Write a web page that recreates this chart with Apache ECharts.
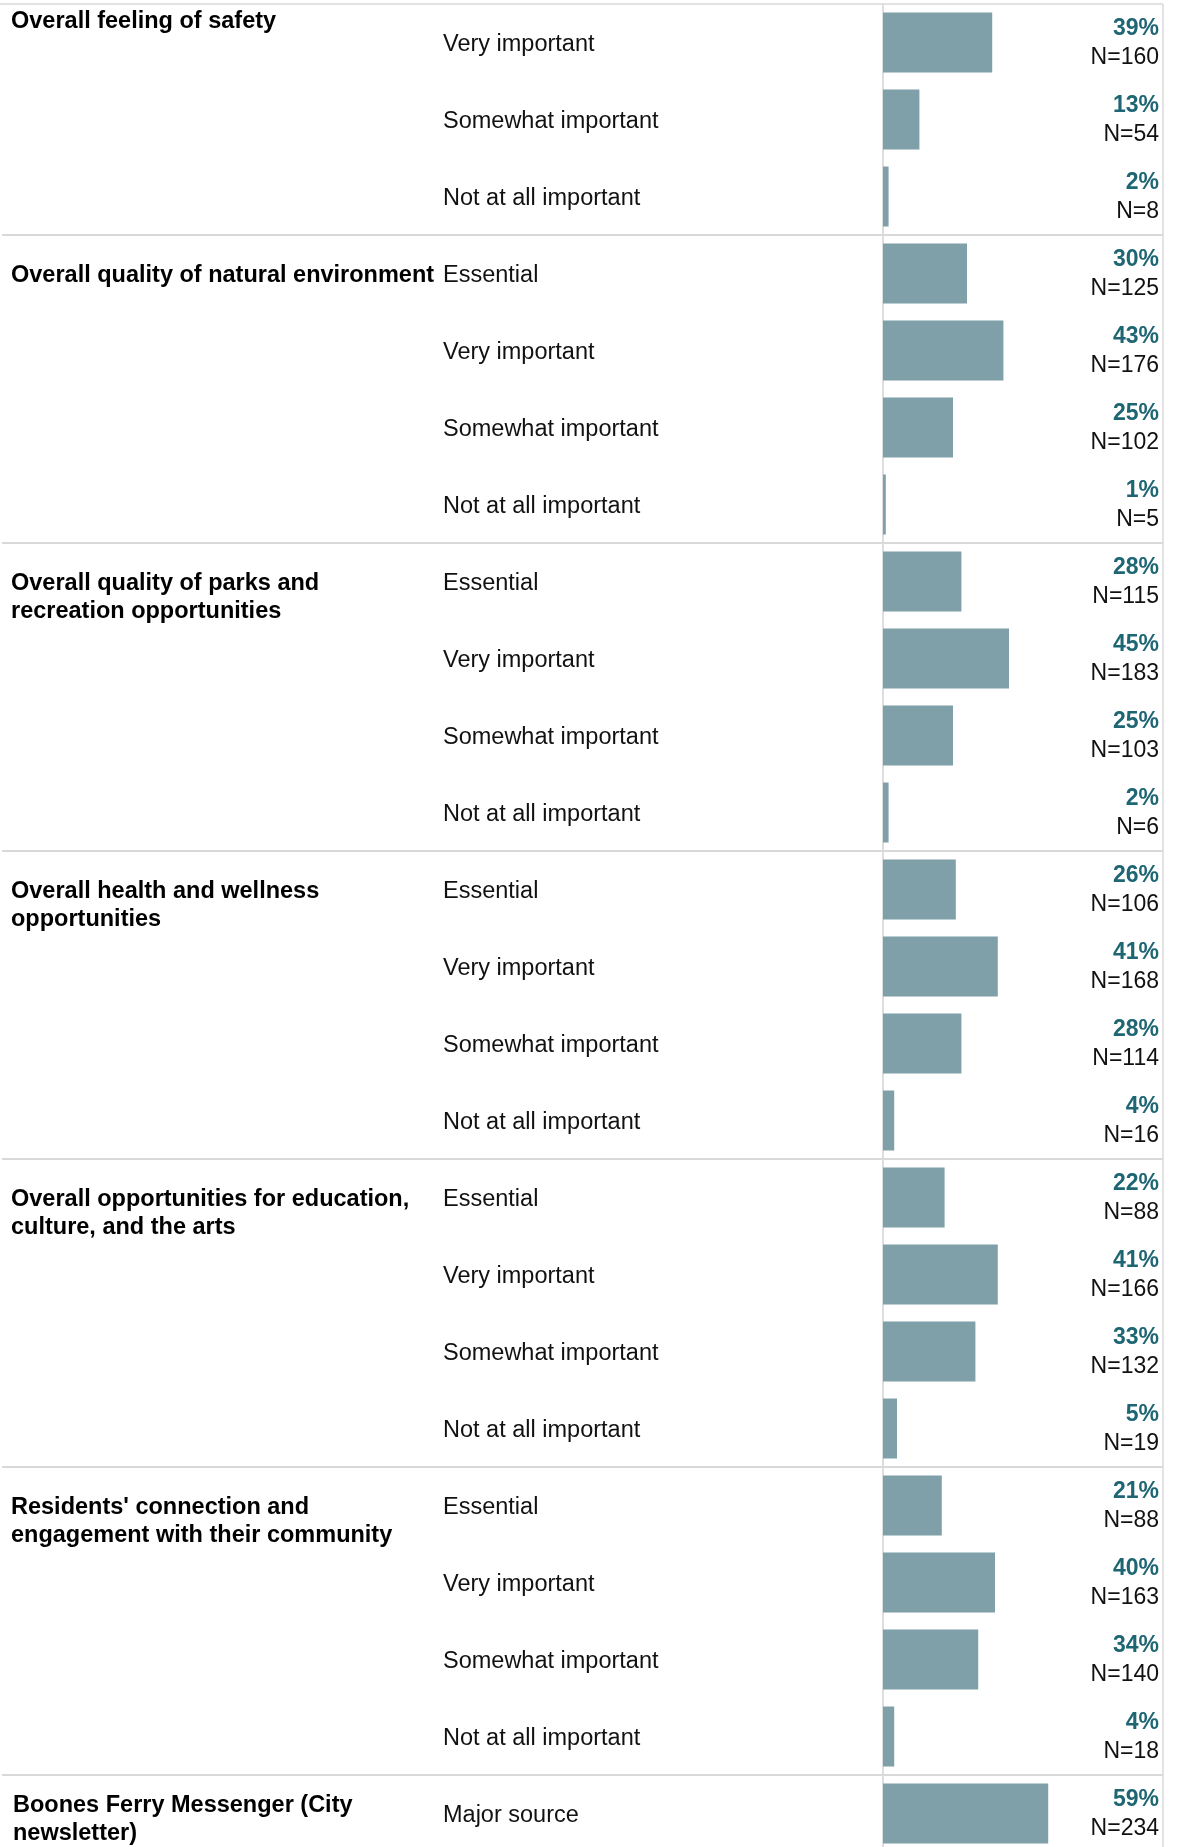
<!DOCTYPE html>
<html>
<head>
<meta charset="utf-8">
<script src="https://cdn.jsdelivr.net/npm/echarts@6/dist/echarts.min.js"></script>
<style>
html,body{margin:0;padding:0;background:#fff;overflow:hidden;}
#chart{width:1178px;height:1860px;}
</style>
</head>
<body>
<div id="chart"></div>
<script>
// ---- data ----
const groupNames = [
  "Overall feeling of safety",
  "Overall quality of natural environment",
  "Overall quality of parks and\nrecreation opportunities",
  "Overall health and wellness\nopportunities",
  "Overall opportunities for education,\nculture, and the arts",
  "Residents' connection and\nengagement with their community",
  "Boones Ferry Messenger (City\nnewsletter)"
];
const groupSizes = [3, 4, 4, 4, 4, 4, 1];
const rowLabels = [
  "Very important", "Somewhat important", "Not at all important",
  "Essential", "Very important", "Somewhat important", "Not at all important",
  "Essential", "Very important", "Somewhat important", "Not at all important",
  "Essential", "Very important", "Somewhat important", "Not at all important",
  "Essential", "Very important", "Somewhat important", "Not at all important",
  "Essential", "Very important", "Somewhat important", "Not at all important",
  "Major source"
];
const pctValues = [
  39, 13, 2,
  30, 43, 25, 1,
  28, 45, 25, 2,
  26, 41, 28, 4,
  22, 41, 33, 5,
  21, 40, 34, 4,
  59
];
const nValues = [
  160, 54, 8,
  125, 176, 102, 5,
  115, 183, 103, 6,
  106, 168, 114, 16,
  88, 166, 132, 19,
  88, 163, 140, 18,
  234
];

// ---- chart ----
const FONT = "'Liberation Sans', Arial, sans-serif";
const BAR = '#7fa0a8';
const PCT = '#1f6674';
const LINE = '#d9d9d9';
const SHIFT = 2.5;
const cats = rowLabels.map((_, i) => String(i));

const chart = echarts.init(document.getElementById('chart'), null, {renderer: 'canvas'});
chart.setOption({
  animation: false,
  backgroundColor: '#fff',
  grid: {left: 883, right: 15, top: 4, bottom: 8, containLabel: false},
  xAxis: {type: 'value', min: 0, max: 100, show: false},
  yAxis: [
    {
      type: 'category', inverse: true, data: cats, position: 'left',
      axisLine: {show: true, lineStyle: {color: '#d3d3d3', width: 1.5}},
      axisTick: {show: false}, splitLine: {show: false},
      axisLabel: {
        interval: 0, margin: 440, align: 'left',
        formatter: (v) => '{a|' + rowLabels[+v] + '}',
        rich: {
          a: {fontFamily: FONT, fontSize: 23.5, color: '#111', lineHeight: 28,
              padding: [5, 0, 0, 0], align: 'left'}
        }
      }
    },
    {
      type: 'category', inverse: true, data: cats, position: 'right',
      axisLine: {show: false}, axisTick: {show: false}, splitLine: {show: false},
      axisLabel: {
        interval: 0, inside: true, margin: 4, align: 'right', padding: [2, 0, 0, 0],
        formatter: (v) => '{p|' + pctValues[+v] + '%}\n{n|N=' + nValues[+v] + '}',
        rich: {
          p: {fontFamily: FONT, fontSize: 23, fontWeight: 'bold', color: PCT, lineHeight: 29, align: 'right'},
          n: {fontFamily: FONT, fontSize: 23, color: '#111', lineHeight: 29, align: 'right'}
        }
      }
    }
  ],
  series: [{
    type: 'bar', yAxisIndex: 0, data: pctValues, barWidth: 60,
    itemStyle: {color: BAR}, silent: true
  }]
});

// ---- group labels & separators via the axis scale ----
const c0 = chart.convertToPixel({yAxisIndex: 0}, '0');
const c1 = chart.convertToPixel({yAxisIndex: 0}, '1');
const band = c1 - c0;
const graphics = [];
const rightX = 1163;

graphics.push({type: 'line', shape: {x1: 0, y1: c0 - band / 2, x2: rightX, y2: c0 - band / 2},
  style: {stroke: LINE, lineWidth: 1.5}, z: 10});
graphics.push({type: 'line', shape: {x1: rightX, y1: c0 - band / 2, x2: rightX, y2: 1860},
  style: {stroke: LINE, lineWidth: 1.5}, z: 10});

let start = 0;
groupNames.forEach((name, g) => {
  const cy = chart.convertToPixel({yAxisIndex: 0}, String(start));
  const top = cy - band / 2;
  if (g > 0) {
    graphics.push({type: 'line', shape: {x1: 2, y1: top, x2: rightX, y2: top},
      style: {stroke: LINE, lineWidth: 2}, z: 10});
  }
  let firstLineY = cy;
  if (g === 0) firstLineY = top + 15.5;          // header pinned at the top
  if (g === groupNames.length - 1) firstLineY = cy - 10;
  graphics.push({
    type: 'text', x: g === groupNames.length - 1 ? 13 : 11, y: firstLineY - 14 + SHIFT,
    style: {text: name, fontFamily: FONT, fontSize: 23.5, fontWeight: 'bold', fill: '#000',
      lineHeight: 28, verticalAlign: 'top', align: 'left'},
    z: 10
  });
  start += groupSizes[g];
});
chart.setOption({graphic: graphics});
</script>
</body>
</html>
